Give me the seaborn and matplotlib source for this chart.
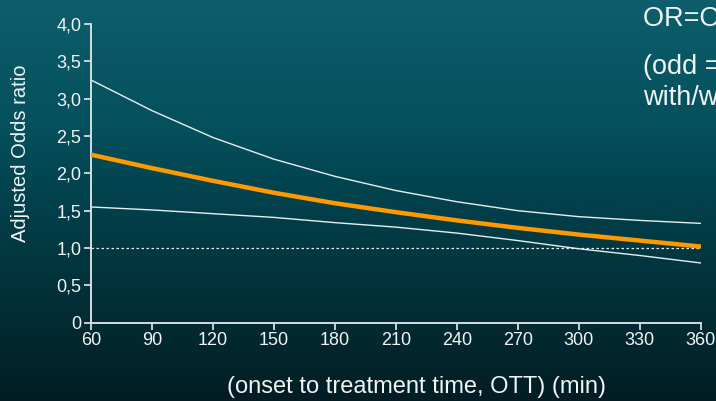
import numpy as np
import pandas as pd
import matplotlib
matplotlib.use("Agg")
import matplotlib.pyplot as plt
from matplotlib.colors import LinearSegmentedColormap
import seaborn as sns

# Onset-to-treatment time (min) and adjusted odds ratio with its confidence band
ott_min = [60, 90, 120, 150, 180, 210, 240, 270, 300, 330, 360]
or_estimate = [2.25, 2.07, 1.90, 1.74, 1.60, 1.48, 1.37, 1.27, 1.18, 1.10, 1.02]
or_upper = [3.25, 2.84, 2.48, 2.19, 1.96, 1.77, 1.62, 1.50, 1.42, 1.37, 1.33]
or_lower = [1.55, 1.51, 1.46, 1.41, 1.34, 1.28, 1.20, 1.10, 0.99, 0.90, 0.80]

x_ticks = [60, 90, 120, 150, 180, 210, 240, 270, 300, 330, 360]
y_ticks = [0, 0.5, 1.0, 1.5, 2.0, 2.5, 3.0, 3.5, 4.0]
y_tick_labels = ["0", "0,5", "1,0", "1,5", "2,0", "2,5", "3,0", "3,5", "4,0"]
reference_or = 1.0

df = pd.DataFrame({
    "ott": ott_min * 3,
    "odds": or_estimate + or_upper + or_lower,
    "series": ["estimate"] * len(ott_min) + ["upper"] * len(ott_min) + ["lower"] * len(ott_min),
})

sns.set_theme(style="ticks")
plt.rcParams["font.family"] = ["Liberation Sans", "DejaVu Sans"]

fig = plt.figure(figsize=(7.16, 4.01), dpi=100)

# Dark teal vertical gradient behind everything
bg = fig.add_axes([0, 0, 1, 1], zorder=-10)
cmap = LinearSegmentedColormap.from_list(
    "bg", [(0.0, "#0e5e6d"), (0.32, "#04505c"), (0.5, "#02414c"), (1.0, "#021d23")])
grad = np.linspace(0, 1, 256).reshape(-1, 1)
bg.imshow(grad, aspect="auto", cmap=cmap, extent=[0, 1, 0, 1], origin="upper")
bg.set_axis_off()

ax = fig.add_axes([91 / 716, 1 - 322.7 / 401, (700.7 - 91) / 716, (322.7 - 24) / 401])
ax.set_facecolor("none")

white = "#e8eef0"
sns.lineplot(data=df[df.series != "estimate"], x="ott", y="odds", units="series",
             estimator=None, color=white, lw=1.0, ax=ax, legend=False)
sns.lineplot(data=df[df.series == "estimate"], x="ott", y="odds",
             color="#ff9900", lw=3.2, ax=ax, legend=False, zorder=5)
ax.hlines(reference_or, ott_min[0], ott_min[-1], colors=white, lw=0.9,
          linestyles=(0, (2, 2)), zorder=1)

ax.set_xlim(60, 360)
ax.set_ylim(0, 4)
ax.set_xticks(x_ticks)
ax.set_yticks(y_ticks)
ax.set_yticklabels(y_tick_labels)
ax.set_xlabel("")
ax.set_ylabel("")

for side in ("top", "right"):
    ax.spines[side].set_visible(False)
for side in ("left", "bottom"):
    ax.spines[side].set_color("#d5dde0")
    ax.spines[side].set_linewidth(1.4)
ax.tick_params(colors="#d5dde0", labelcolor="#f0f4f5", labelsize=13, width=1.3,
               length=5, direction="out", pad=2)

fig.text(416 / 716, 1 - 387 / 401, "(onset to treatment time, OTT) (min)",
         ha="center", va="center", color="#f0f4f5", fontsize=17)
fig.text(21 / 716, 1 - 153 / 401, "Adjusted Odds ratio", rotation=90,
         ha="center", va="center", color="#f0f4f5", fontsize=14.5)

fig.text(643 / 716, 1 - 19 / 401, "OR=Odds ratio", ha="left", va="center",
         color="#f0f4f5", fontsize=19.5)
fig.text(643 / 716, 1 - 67 / 401, "(odd = ratio of patients", ha="left", va="center",
         color="#f0f4f5", fontsize=19.5)
fig.text(643 / 716, 1 - 98 / 401, "with/without good outcome)", ha="left", va="center",
         color="#f0f4f5", fontsize=19.5)

fig.savefig("out.png", dpi=100)
